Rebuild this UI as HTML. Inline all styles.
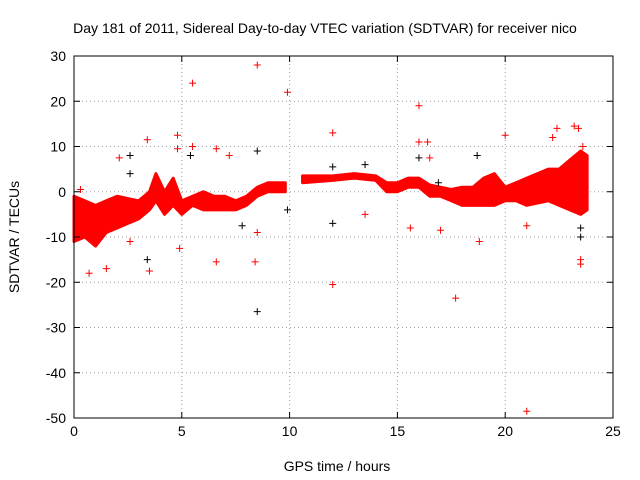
<!DOCTYPE html>
<html><head><meta charset="utf-8"><style>
body{margin:0;background:#fff}
svg{display:block;font-family:"Liberation Sans",sans-serif}
</style></head><body>
<svg id="chart" width="640" height="480" xmlns="http://www.w3.org/2000/svg">
<rect width="640" height="480" fill="#fff"/>
<text x="325" y="33" text-anchor="middle" font-size="14">Day 181 of 2011, Sidereal Day-to-day VTEC variation (SDTVAR) for receiver nico</text>
<text x="337" y="471" text-anchor="middle" font-size="14">GPS time / hours</text>
<text transform="translate(19,237) rotate(-90)" text-anchor="middle" font-size="14">SDTVAR / TECUs</text>
<g id="grid"></g><g id="band"></g><g id="pts"></g><g id="axes"></g>
</svg>
<script>
const xTicks=[0,5,10,15,20,25];
const yTicks=[30,20,10,0,-10,-20,-30,-40,-50];
const bandTime=[0,0.5,1,1.5,2,3,3.5,3.8,4.2,4.6,5,5.5,6,6.5,7,7.5,8,8.5,9,9.8];
const bandLow=[-11,-10,-12,-9,-8,-6,-4,-2,-5,-3,-5,-3,-4,-4,-4,-4,-3,-1,0,0];
const bandHigh=[-1,-2,-3,-2,-1,-2,0,4,0,3,-2,-1,0,-1,-1,-2,-1,1,2,2];
const band2Time=[10.6,12,13,14,14.5,15,15.5,16,16.5,17,17.5,18,18.5,19,19.5,20,20.5,21,22,22.5,23,23.5,23.8];
const band2Low=[2,2.5,3,2.5,0,0,1,1,-1,-1,-2,-3,-3,-3,-3,-2,-2,-3,-2,-3,-4,-5,-4];
const band2High=[3.5,3.5,4,3.5,2,2,3,3,1.5,1,0.5,1,1,3,4,1,2,3,5,5,7,9,8];
const outX=[0.3,0.7,1.5,2.1,2.6,2.6,2.6,3.4,3.4,3.5,4.8,4.8,4.9,5.5,5.5,5.4,6.6,6.6,7.2,7.8,8.5,8.5,8.4,8.5,8.5,9.9,9.9,12,12,12,12,13.5,13.5,15.6,16,16,16,16.4,16.5,16.9,17,17.7,18.7,18.8,20,21,21,22.2,22.4,23.2,23.4,23.5,23.5,23.5,23.5,23.6];
const outY=[0.5,-18,-17,7.5,8,4,-11,11.5,-15,-17.5,12.5,9.5,-12.5,24,10,8,9.5,-15.5,8,-7.5,28,9,-15.5,-26.5,-9,22,-4,13,5.5,-7,-20.5,6,-5,-8,19,11,7.5,11,7.5,2,-8.5,-23.5,8,-11,12.5,-48.5,-7.5,12,14,14.5,14,-8,-10,-15,-16,10];
const outBlack=[0,0,0,0,1,1,0,0,1,0,0,0,0,0,0,1,0,0,0,1,0,1,0,1,0,0,1,0,1,1,0,1,0,0,0,0,1,0,0,1,0,0,1,0,0,0,0,0,0,0,0,1,1,0,0,0];
const L=74,R=613,T=56,B=418;
const sx=v=>L+(v-0)/25*(R-L);
const sy=v=>T+(30-v)/80*(B-T);
const NS="http://www.w3.org/2000/svg";
function mk(p,tag,a){const e=document.createElementNS(NS,tag);for(const k in a)e.setAttribute(k,a[k]);p.appendChild(e);return e;}
const grid=document.getElementById('grid'),axes=document.getElementById('axes');
xTicks.forEach(t=>{
 const g=mk(grid,'line',{x1:sx(t),x2:sx(t),y1:T,y2:B,stroke:'#a0a0a0','stroke-dasharray':'1,3'});
 
 
 const tx=mk(axes,'text',{x:sx(t),y:B+18,'text-anchor':'middle','font-size':'14'});tx.textContent=t;
 
 
 mk(axes,'line',{x1:sx(t),x2:sx(t),y1:B,y2:B-6,stroke:'#000'});
 mk(axes,'line',{x1:sx(t),x2:sx(t),y1:T,y2:T+6,stroke:'#000'});
});
yTicks.forEach(t=>{
 const g=mk(grid,'line',{x1:L,x2:R,y1:sy(t),y2:sy(t),stroke:'#a0a0a0','stroke-dasharray':'1,3'});
 
 
 const tx=mk(axes,'text',{x:L-8,y:sy(t)+5,'text-anchor':'end','font-size':'14'});tx.textContent=t;
 
 
 mk(axes,'line',{x1:L,x2:L+6,y1:sy(t),y2:sy(t),stroke:'#000'});
 mk(axes,'line',{x1:R,x2:R-6,y1:sy(t),y2:sy(t),stroke:'#000'});
});
const fr=mk(axes,'rect',{x:L,y:T,width:R-L,height:B-T,fill:'none',stroke:'#000'});


const bandG=document.getElementById('band');
function drawBand(tA,lo,hi,name){
 let d='M'+tA.map((t,i)=>sx(t)+','+sy(hi[i])).join('L');
 for(let i=tA.length-1;i>=0;i--)d+='L'+sx(tA[i])+','+sy(lo[i]);
 const p=mk(bandG,'path',{d:d+'Z',fill:'#ff0000',stroke:'#ff0000','stroke-width':'3','stroke-linejoin':'round'});
 
 
}
drawBand(bandTime,bandLow,bandHigh,'data-band-early');
drawBand(band2Time,band2Low,band2High,'data-band-late');
const pts=document.getElementById('pts');
outX.forEach((x,i)=>{
 const cx=sx(x),cy=sy(outY[i]),c=outBlack[i]?'#000':'#ff0000';
 const p=mk(pts,'path',{d:`M${cx-3.5},${cy}h7M${cx},${cy-3.5}v7`,stroke:c,'stroke-width':'1'});
 
 
});
</script>
</body></html>
